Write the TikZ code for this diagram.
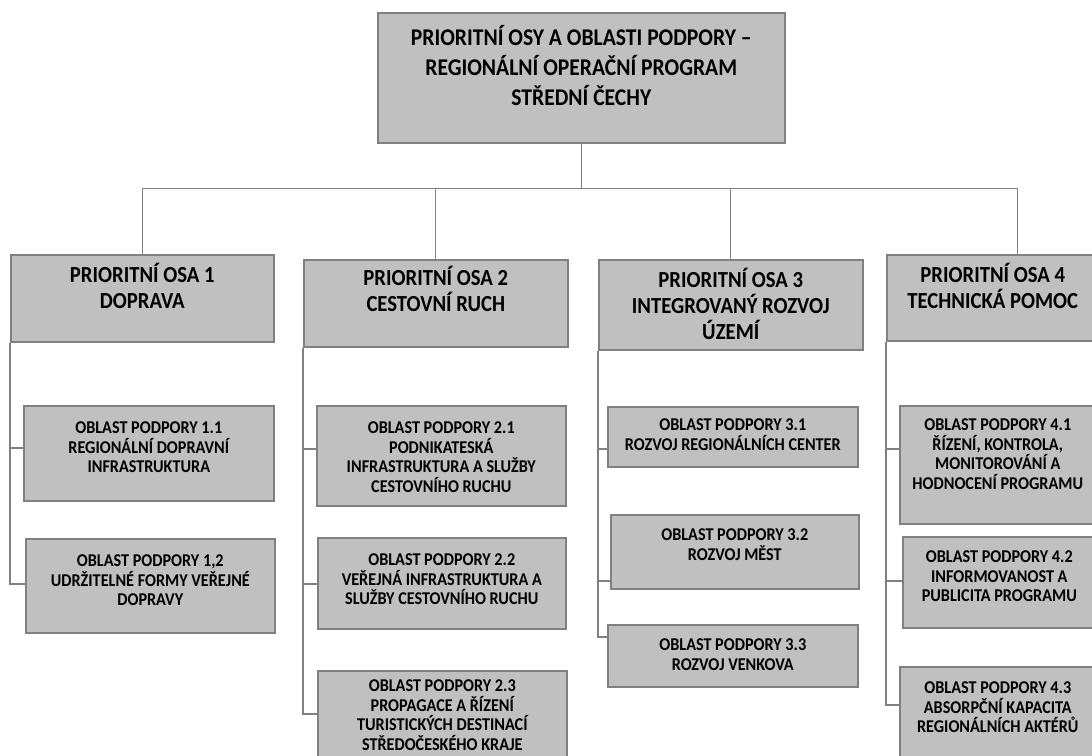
\documentclass[tikz,border=0pt]{standalone}
\usepackage{fontspec}
\newfontfamily\orgfont{Carlito}[FakeStretch=0.9]
\definecolor{boxgray}{HTML}{C0C0C0}
\definecolor{linegray}{HTML}{808080}
% box text: width, height, first baseline, lines
\newcommand{\boxtext}[4]{\parbox[t][#2pt][t]{#1pt}{\centering\rule{0pt}{#3pt}#4}}

\begin{document}
\begin{tikzpicture}[x=1pt, y=-1pt,
    cell/.style={draw=linegray, fill=boxgray, line width=1.6pt, inner sep=0pt, anchor=north west},
    hlava/.style={cell, font=\orgfont\bfseries\fontsize{24}{30}\selectfont},
    osa/.style={cell, font=\orgfont\bfseries\fontsize{23}{26}\selectfont},
    oblast/.style={cell, font=\orgfont\bfseries\fontsize{18}{19.5}\selectfont},
    link/.style={draw=linegray, line width=1.3pt}]
    \useasboundingbox (0,0) rectangle (1092,755);

    % --- HLAVA ---
    \node (hlava) at (377,12) [hlava] {\boxtext{407}{130}{33}{PRIORITNÍ OSY A OBLASTI PODPORY –\\REGIONÁLNÍ OPERAČNÍ PROGRAM\\STŘEDNÍ ČECHY}};

    % --- PRIORITNI OSY ---
    \node (p1) at (10,254) [osa] {\boxtext{263}{87}{28}{PRIORITNÍ OSA 1\\DOPRAVA}};
    \node (p2) at (303,259) [osa] {\boxtext{264}{87}{26}{PRIORITNÍ OSA 2\\CESTOVNÍ RUCH}};
    \node (p3) at (598,259) [osa] {\boxtext{264}{90}{28}{PRIORITNÍ OSA 3\\INTEGROVANÝ ROZVOJ\\ÚZEMÍ}};
    \node (p4) at (886,254) [osa] {\boxtext{212}{86}{28}{PRIORITNÍ OSA 4\\TECHNICKÁ POMOC}};

    % --- OBLASTI PODPORY ---
    \node (s11) at (23,405) [oblast] {\boxtext{250}{95}{28}{OBLAST PODPORY 1.1\\REGIONÁLNÍ DOPRAVNÍ\\INFRASTRUKTURA}};
    \node (s12) at (25,538) [oblast] {\boxtext{249}{94}{28}{OBLAST PODPORY 1,2\\UDRŽITELNÉ FORMY VEŘEJNÉ\\DOPRAVY}};

    \node (s21) at (316,405) [oblast] {\boxtext{249}{100}{28}{OBLAST PODPORY 2.1\\PODNIKATESKÁ\\INFRASTRUKTURA A SLUŽBY\\CESTOVNÍHO RUCHU}};
    \node (s22) at (317,537) [oblast] {\boxtext{248}{91}{28}{OBLAST PODPORY 2.2\\VEŘEJNÁ INFRASTRUKTURA A\\SLUŽBY CESTOVNÍHO RUCHU}};
    \node (s23) at (317,670) [oblast] {\boxtext{249}{100}{21}{OBLAST PODPORY 2.3\\PROPAGACE A ŘÍZENÍ\\TURISTICKÝCH DESTINACÍ\\STŘEDOČESKÉHO KRAJE}};

    \node (s31) at (607,406) [oblast] {\boxtext{250}{60}{24}{OBLAST PODPORY 3.1\\ROZVOJ REGIONÁLNÍCH CENTER}};
    \node (s32) at (610,514) [oblast] {\boxtext{248}{74}{26}{OBLAST PODPORY 3.2\\ROZVOJ MĚST}};
    \node (s33) at (607,624) [oblast] {\boxtext{250}{62}{26}{OBLAST PODPORY 3.3\\ROZVOJ VENKOVA}};

    \node (s41) at (899,405) [oblast] {\boxtext{196}{118}{25}{OBLAST PODPORY 4.1\\ŘÍZENÍ, KONTROLA,\\MONITOROVÁNÍ A\\HODNOCENÍ PROGRAMU}};
    \node (s42) at (902,536) [oblast] {\boxtext{193}{91}{26}{OBLAST PODPORY 4.2\\INFORMOVANOST A\\PUBLICITA PROGRAMU}};
    \node (s43) at (899,666) [oblast] {\boxtext{196}{100}{27}{OBLAST PODPORY 4.3\\ABSORPČNÍ KAPACITA\\REGIONÁLNÍCH AKTÉRŮ}};

    % --- SPOJENI ---
    \draw[link] (hlava.south) -- ++(0,45) coordinate (hub);
    \coordinate (p4top) at ([xshift=25pt]p4.north);
    \draw[link] (hub -| p1.north) -- (hub -| p4top);
    \draw[link] (hub -| p1.north) -- (p1.north);
    \draw[link] (hub -| p2.north) -- (p2.north);
    \draw[link] (hub -| p3.north) -- (p3.north);
    \draw[link] (hub -| p4top) -- (p4top);

    \coordinate (c11) at ([yshift=-43pt]s11.north west);
    \coordinate (c12) at ([yshift=-46pt]s12.north west);
    \coordinate (c21) at ([yshift=-44pt]s21.north west);
    \coordinate (c22) at ([yshift=-47pt]s22.north west);
    \coordinate (c23) at ([yshift=-44pt]s23.north west);
    \coordinate (c31) at ([yshift=-43pt]s31.north west);
    \coordinate (c32) at ([yshift=-67pt]s32.north west);
    \coordinate (c33) at ([yshift=-13pt]s33.north west);
    \coordinate (c41) at ([yshift=-44pt]s41.north west);
    \coordinate (c42) at ([yshift=-45pt]s42.north west);
    \coordinate (c43) at ([yshift=-39pt]s43.north west);

    \draw[link] (p1.south west) |- (c12);
    \draw[link] (p1.south west |- c11) -- (c11);
    \draw[link] (p2.south west) |- (c23);
    \draw[link] (p2.south west |- c21) -- (c21);
    \draw[link] (p2.south west |- c22) -- (c22);
    \draw[link] (p3.south west) |- (c33);
    \draw[link] (p3.south west |- c31) -- (c31);
    \draw[link] (p3.south west |- c32) -- (c32);
    \draw[link] (p4.south west) |- (c43);
    \draw[link] (p4.south west |- c41) -- (c41);
    \draw[link] (p4.south west |- c42) -- (c42);
\end{tikzpicture}
\end{document}
